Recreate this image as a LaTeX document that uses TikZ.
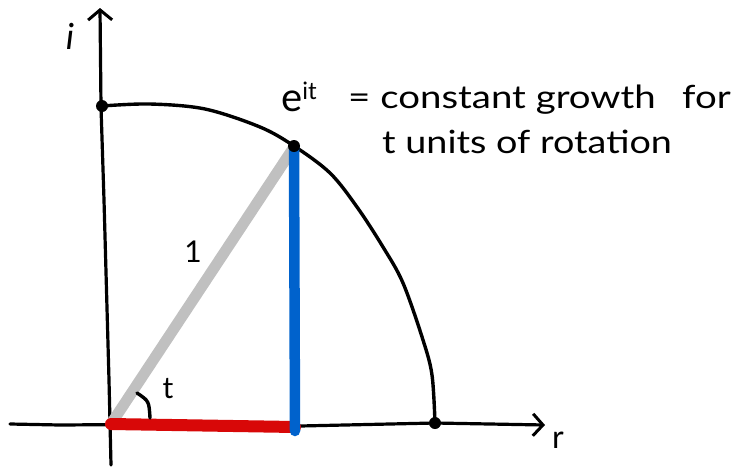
\documentclass[tikz,border=0pt]{standalone}
\usepackage{fontspec}
\setmainfont{Lato}
\usetikzlibrary{arrows.meta}
\definecolor{lgray}{HTML}{C0C0C0}
\definecolor{pblue}{HTML}{0062CC}
\definecolor{pred}{HTML}{D80808}
\tikzset{
  axis/.style={line width=3.2pt, line cap=round, line join=round},
  curve/.style={line width=3.4pt, line cap=round, line join=round},
  hand/.style={font=\fontsize{32}{34}\selectfont, inner sep=0pt, anchor=base west},
  dotpt/.style={circle, fill=black, inner sep=0pt, minimum size=12pt},
}
\begin{document}
\begin{tikzpicture}[x=1pt,y=-1pt]
\useasboundingbox (0,0) rectangle (739,467);
% coordinates
\coordinate (O) at (111,424);
\coordinate (P) at (294,147);
\coordinate (Q) at (295,427);
\coordinate (Qb) at (295,431);
\coordinate (ytop) at (100,8);
\coordinate (ybot) at (111,465);
\coordinate (xleft) at (10,424);
\coordinate (xright) at (545,425);
% axes
\draw[axis, -{Straight Barb[length=10pt,width=24pt,line width=3pt]}] (ybot) -- (109,380) -- (104,200) -- (101,107) -- (ytop);
\draw[axis, -{Straight Barb[length=10pt,width=22pt,line width=3pt]}] (xleft) -- (60,425) -- (200,424) -- (300,426) -- (435,423) -- (xright);
% arc
\draw[curve] plot[smooth, tension=0.55] coordinates {(102,106) (150,104) (205,109) (260,127) (294,146) (330,173) (357,207) (383,247) (403,283) (423,340) (432,375) (435,423)};
% colored segments
\draw[line width=11pt, lgray, line cap=round] (O) -- (P);
\draw[line width=12pt, pred, line cap=round] (O) -- (Q);
\draw[line width=10.5pt, pblue, line cap=round] (P) -- (Qb);
% angle arc
\draw[curve] (137,393) .. controls (149,401) .. (150,418);
% dots
\node[dotpt] (d1) at (102,106) {};
\node[dotpt] (d2) at (294,146) {};
\node[dotpt] (d3) at (435,423) {};
% labels
\node[font=\fontsize{36}{36}\selectfont\itshape] (li) at (70,36) {i};
\node[font=\fontsize{32}{32}\selectfont] (lr) at (558,440) {r};
\node[font=\fontsize{30}{30}\selectfont] (lt) at (168,389) {t};
\node[font=\fontsize{30}{30}\selectfont] (l1) at (193,252) {1};
\node[hand] (eit) at (281,111) {\fontsize{40}{40}\selectfont e\raisebox{12pt}{\fontsize{24}{24}\selectfont it}};
\node[hand] (line1) at (348,108) {\scalebox{1.2}[1]{= constant growth\hspace{22pt}for}};
\node[hand] (line2) at (382,153) {\scalebox{1.18}[1]{t units of rotation}};
\end{tikzpicture}
\end{document}
